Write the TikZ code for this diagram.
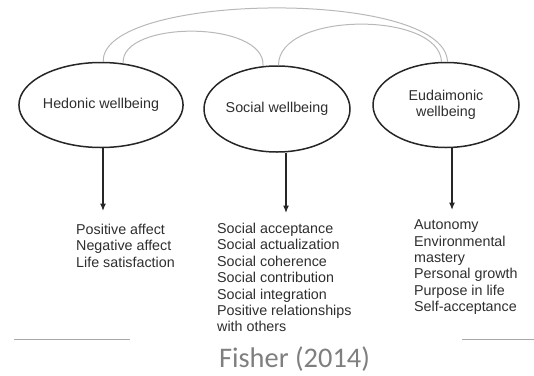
\documentclass[tikz,border=0pt]{standalone}
\usepackage{fontspec}
\setmainfont{Liberation Sans}
\newfontfamily\calfont{Carlito}
\usetikzlibrary{shapes.geometric,arrows.meta}
\definecolor{txt}{HTML}{2E2E2E}
\definecolor{arcgray}{HTML}{B8B8B8}
\definecolor{capgray}{HTML}{7F7F7F}
\definecolor{rulegray}{HTML}{A8A8A8}
\tikzset{
  wb/.style={ellipse, draw=black!85, line width=1.5pt, minimum width=146pt, minimum height=85pt, inner sep=0pt, text=txt, align=center, font=\fontsize{14.3}{15.6}\selectfont},
  listtext/.style={anchor=north west, inner sep=0pt, align=left, text=txt, font=\fontsize{14.3}{16.4}\selectfont},
  arr/.style={draw=black!85, line width=1.3pt, -{Latex[length=7.5pt,width=6pt]}},
  link/.style={draw=arcgray, line width=1pt},
  rulel/.style={draw=rulegray, line width=0.9pt}
}
\begin{document}
\begin{tikzpicture}[x=1pt,y=-1pt]
\useasboundingbox (0,0) rectangle (534,375);
% ellipses
\node[wb] (h) at (101,105) {Hedonic wellbeing};
\node[wb, minimum height=86pt] (s) at (277,109) {Social wellbeing};
\node[wb] (e) at (446,105) {Eudaimonic\\wellbeing};
% connecting arcs
\draw[link] (h.87) .. controls (100,-8) and (445,-12) .. (e.88);
\draw[link] (h.62) .. controls (120,20) and (266,20) .. (s.108);
\draw[link] (s.88) .. controls (278,11) and (440,11) .. (e.96);
% arrow ends
\coordinate (ha) at (103,211);
\coordinate (sa) at (286,213);
\coordinate (ea) at (452,210);
\draw[arr] (h.south -| ha) -- (ha);
\draw[arr] (s.south -| sa) -- (sa);
\draw[arr] (e.south -| ea) -- (ea);
% lists
\node[listtext] (hl) at (76,224) {Positive affect\\Negative affect\\Life satisfaction};
\node[listtext] (sl) at (217,223) {Social acceptance\\Social actualization\\Social coherence\\Social contribution\\Social integration\\Positive relationships\\with others};
\node[listtext] (el) at (414,219.6) {Autonomy\\Environmental\\mastery\\Personal growth\\Purpose in life\\Self-acceptance};
% caption rules and text
\draw[rulel] (14,339) -- (130,339);
\draw[rulel] (462,339) -- (534,339);
\node[anchor=base, inner sep=0pt, text=capgray, font=\calfont\fontsize{28.4}{30}\selectfont] (cap) at (294.5,367) {Fisher (2014)};
\end{tikzpicture}
\end{document}
